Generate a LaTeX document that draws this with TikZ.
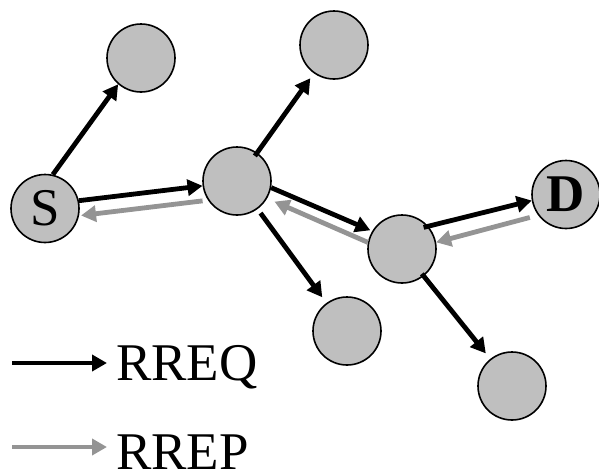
\documentclass[tikz,border=0pt]{standalone}
\usepackage{fontspec}
\setmainfont{Liberation Serif}
\usetikzlibrary{arrows.meta}
\definecolor{nodefill}{gray}{0.75}
\definecolor{repcol}{gray}{0.58}
\begin{document}
\begin{tikzpicture}[x=1pt,y=-1pt,
  nd/.style={circle,draw=black,line width=1.6pt,fill=nodefill,minimum size=68pt,inner sep=0pt,
             font=\fontsize{53}{60}\selectfont},
  req/.style={line width=4.8pt,-{Triangle[length=15pt,width=16pt]}},
  rep/.style={req,draw=repcol},
  lbl/.style={anchor=base west,inner sep=0pt,font=\fontsize{53}{60}\selectfont}]
\useasboundingbox (0,0) rectangle (599,472);
\node[nd] (S)  at (45,208.5) {S};
\node[nd] (A)  at (141,58)   {};
\node[nd] (C)  at (237,181)  {};
\node[nd] (T)  at (334,45)   {};
\node[nd] (M)  at (402,249)  {};
\node[nd] (D)  at (566,194.5) {\bfseries D};
\node[nd] (B1) at (347,331)  {};
\node[nd] (B2) at (512,386)  {};
% RREQ (black)
\draw[req] (S.77) -- (A.229);
\draw[req] (S.13) -- (C.188);
\draw[req,shorten <=-4pt,shorten >=6pt] (C) -- (T);
\draw[req,shorten >=2pt] (C.-11) -- (M.149);
\draw[req] ([shift={(-3pt,-3pt)}]M.45) -- (D.190);
\draw[req,shorten <=5pt,shorten >=7pt] (C) -- (B1);
\draw[req,shorten <=-3pt,shorten >=7pt] (M) -- (B2);
% RREP (gray)
\draw[rep] ([shift={(-7pt,-4pt)}]D.213) -- (M.11);
\draw[rep,shorten >=8pt] (M.169) -- (C.-30);
\draw[rep,shorten >=2pt] ([shift={(-4pt,-3pt)}]C.209) -- (S.-12);
% legend
\coordinate (q1) at (12,363);
\coordinate (q2) at (107,363);
\coordinate (p1) at (12,447);
\coordinate (p2) at (107,447);
\draw[req] (q1) -- (q2);
\draw[rep] (p1) -- (p2);
\node[lbl] (tq) at (116,380) {RREQ};
\node[lbl] (tp) at (116,469) {RREP};
\end{tikzpicture}
\end{document}
